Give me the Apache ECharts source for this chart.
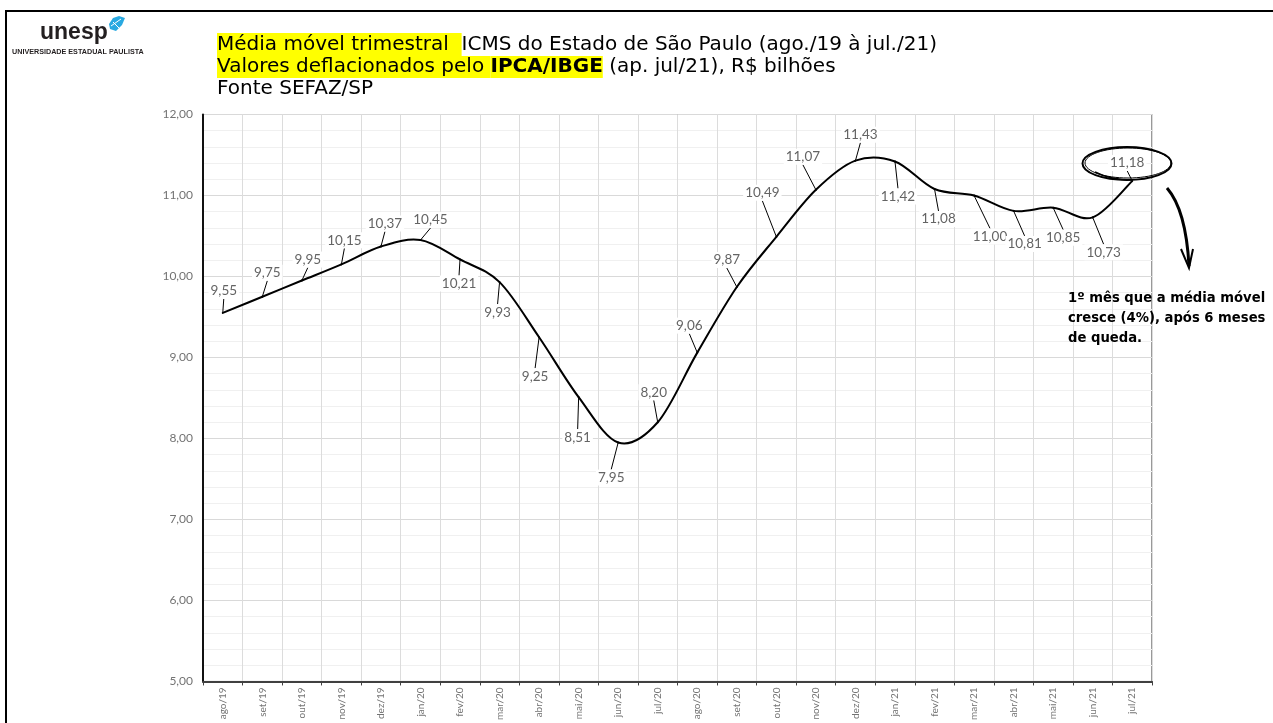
<!DOCTYPE html>
<html>
<head>
<meta charset="utf-8">
<script src="https://cdn.jsdelivr.net/npm/echarts@6/dist/echarts.min.js"></script>
<style>
html,body{margin:0;padding:0;background:#fff;}
#c{width:1273px;height:723px;}
</style>
</head>
<body>
<div id="c"></div>
<script>
const categories = ['ago/19','set/19','out/19','nov/19','dez/19','jan/20','fev/20','mar/20','abr/20','mai/20','jun/20','jul/20','ago/20','set/20','out/20','nov/20','dez/20','jan/21','fev/21','mar/21','abr/21','mai/21','jun/21','jul/21'];
const icmsValues = [9.55,9.75,9.95,10.15,10.37,10.45,10.21,9.93,9.25,8.51,7.95,8.20,9.06,9.87,10.49,11.07,11.43,11.42,11.08,11.00,10.81,10.85,10.73,11.18];
const yTicks = [5,6,7,8,9,10,11,12];
// label callout offsets (dx, dy) relative to each point
const labelDx = [1,5,6,3,4,10,-1,-2,-4,-1,-7,-4,-8,-10,-14,-13,5,3,4,16,11,10,11,-5];
const labelDy = [-22,-24,-21,-24,-23,-20,24,30,39,40,35,-30,-27,-27,-44,-33,-26,35,30,41,33,30,35,-18];

const FONT = 'Lato';
const TFONT = 'DejaVu Sans';
const chart = echarts.init(document.getElementById('c'), null, {renderer:'canvas'});
const fmt = v => v.toFixed(2).replace('.', ',');
const n = icmsValues.length;

function renderSegment(params, api) {
  const i = params.dataIndex;
  if (i >= n - 1) return null;
  const P = k => api.coord([Math.max(0, Math.min(n - 1, k)), icmsValues[Math.max(0, Math.min(n - 1, k))]]);
  const p0 = P(i - 1), p1 = P(i), p2 = P(i + 1), p3 = P(i + 2);
  return {
    type:'bezierCurve',
    shape:{x1:p1[0], y1:p1[1], x2:p2[0], y2:p2[1],
      cpx1:p1[0] + (p2[0] - p0[0]) / 6, cpy1:p1[1] + (p2[1] - p0[1]) / 6,
      cpx2:p2[0] - (p3[0] - p1[0]) / 6, cpy2:p2[1] - (p3[1] - p1[1]) / 6},
    style:{stroke:'#000', lineWidth:2, fill:null, lineCap:'round'}
  };
}

const titleRich = (h) => ({
  hl:{backgroundColor:'#ffff00', fontSize:20, fontFamily:TFONT, height:h, lineHeight:h, fill:'#000'},
  hlb:{backgroundColor:'#ffff00', fontSize:20, fontWeight:'bold', fontFamily:TFONT, height:h, lineHeight:h, fill:'#000'},
  n:{fontSize:20, fontFamily:TFONT, height:h, lineHeight:h, fill:'#000'}
});

chart.setOption({
  animation:false,
  backgroundColor:'#fff',
  grid:{left:203, right:121, top:114.5, bottom:40, show:true, borderColor:'#333', borderWidth:1, containLabel:false},
  xAxis:{
    type:'category', data:categories, boundaryGap:true,
    axisLine:{show:true, lineStyle:{color:'#404040', width:2}},
    axisTick:{show:true, length:4, lineStyle:{color:'#404040', width:1}},
    axisLabel:{rotate:90, fontSize:10, color:'#737373', fontFamily:FONT, margin:6, interval:0},
    splitLine:{show:true, lineStyle:{color:'#dcdcdc', width:1}}
  },
  yAxis:{
    type:'value', min:yTicks[0], max:yTicks[yTicks.length-1], interval:1,
    axisLine:{show:true, lineStyle:{color:'#111', width:2}},
    axisTick:{show:false},
    axisLabel:{fontSize:12, color:'#737373', fontFamily:FONT, margin:10, formatter:fmt},
    splitLine:{show:true, lineStyle:{color:'#d9d9d9', width:1}},
    minorTick:{show:false, splitNumber:5},
    minorSplitLine:{show:true, lineStyle:{color:'#f0f0f0', width:1}}
  },
  series:[{
    type:'custom', data:icmsValues.map((v, i) => [i, v]), encode:{x:0, y:1},
    renderItem:renderSegment, z:4, silent:true
  },{
    type:'line', data:icmsValues,
    symbol:'circle', symbolSize:1, showSymbol:true,
    itemStyle:{color:'#000'},
    lineStyle:{opacity:0},
    label:{show:true, position:'inside', formatter:p=>fmt(p.value), fontSize:13.5, color:'#646464', fontFamily:FONT,
      backgroundColor:'#fff', padding:[1,2]},
    labelLine:{show:true, length2:0, smooth:false, minTurnAngle:180, lineStyle:{color:'#000', width:1}},
    labelLayout:function(p){ return {dx:labelDx[p.dataIndex], dy:labelDy[p.dataIndex]}; },
    z:5
  }],
  graphic:[
    {type:'rect', shape:{x:6,y:11,width:1300,height:800}, style:{fill:'none', stroke:'#000', lineWidth:2}, silent:true},
    {type:'text', x:40, y:21, style:{text:'unesp', font:'bold 23px "Liberation Sans"', fill:'#231f20'}},
    {type:'polygon', shape:{points:[[109,24],[113,18],[119,16],[125,18],[122,25],[116,31],[110,29]]}, style:{fill:'#29a9e1'}},
    {type:'polyline', shape:{points:[[111,26],[121,19]]}, style:{stroke:'#fff', lineWidth:1}},
    {type:'polyline', shape:{points:[[113,22],[119,28]]}, style:{stroke:'#fff', lineWidth:1}},
    {type:'text', x:12, y:48.5, style:{text:'UNIVERSIDADE ESTADUAL PAULISTA', font:'bold 7.2px "Liberation Sans"', fill:'#231f20'}},
    {type:'text', x:217, y:33, style:{
      text:'{hl|Média móvel trimestral  }{n|ICMS do Estado de São Paulo (ago./19 à jul./21)}', rich:titleRich(23)}},
    {type:'text', x:217, y:56, style:{
      text:'{hl|Valores deflacionados pelo }{hlb|IPCA/IBGE}{n| (ap. jul/21), R$ bilhões}', rich:titleRich(22)}},
    {type:'text', x:217, y:79, style:{text:'Fonte SEFAZ/SP', font:'20px "DejaVu Sans"', fill:'#000'}},
    {type:'ellipse', shape:{cx:1127, cy:163.5, rx:44.5, ry:16.5}, style:{fill:'none', stroke:'#000', lineWidth:2}, z:10},
    {type:'ellipse', shape:{cx:1128, cy:163, rx:43, ry:15}, style:{fill:'none', stroke:'#000', lineWidth:1}, z:10},
    {type:'bezierCurve', shape:{x1:1095, y1:172, x2:1133, y2:180, cpx1:1110, cpy1:180}, style:{fill:'none', stroke:'#000', lineWidth:1.5}, z:10},
    {type:'bezierCurve', shape:{x1:1167, y1:188, x2:1189, y2:266, cpx1:1186, cpy1:210}, style:{fill:'none', stroke:'#000', lineWidth:3}, z:10},
    {type:'polyline', shape:{points:[[1181,249],[1189,268],[1193,249]]}, style:{fill:'none', stroke:'#000', lineWidth:2}, z:10},
    {type:'text', x:1068, y:292, style:{text:'1º mês que a média móvel', font:'bold 13.2px "DejaVu Sans"', fill:'#000'}, z:10},
    {type:'text', x:1068, y:312, style:{text:'cresce (4%), após 6 meses', font:'bold 13.2px "DejaVu Sans"', fill:'#000'}, z:10},
    {type:'text', x:1068, y:332, style:{text:'de queda.', font:'bold 13.2px "DejaVu Sans"', fill:'#000'}, z:10}
  ]
});
</script>
</body>
</html>
